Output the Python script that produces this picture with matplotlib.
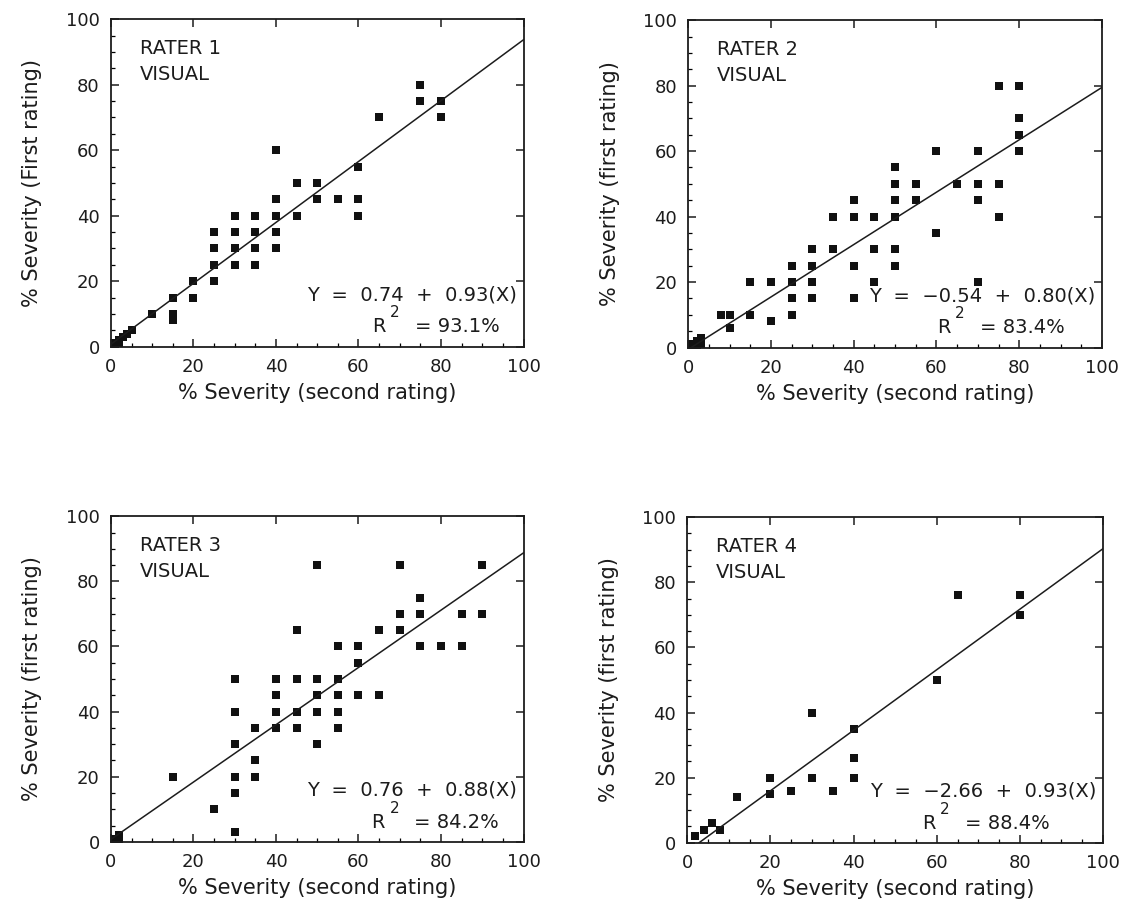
import numpy as np
import matplotlib
matplotlib.use("Agg")
import matplotlib.pyplot as plt
from matplotlib.ticker import MultipleLocator

plt.rcParams["font.family"] = ["DejaVu Sans"]

# second rating (x) vs first rating (y), % severity, per rater
rater1_x = [75, 75, 80, 80, 65, 40, 60, 45, 50, 40, 50, 55, 60, 30, 35, 40, 45, 60,
            25, 30, 35, 40, 25, 30, 35, 40, 25, 30, 35, 25, 20, 20, 15, 15, 15, 10,
            5, 4, 3, 2, 1, 0, 1, 2]
rater1_y = [80, 75, 75, 70, 70, 60, 55, 50, 50, 45, 45, 45, 45, 40, 40, 40, 40, 40,
            35, 35, 35, 35, 30, 30, 30, 30, 25, 25, 25, 20, 20, 15, 15, 10, 8, 10,
            5, 4, 3, 2, 1, 0, 0, 1]

rater2_x = [75, 80, 80, 80, 80, 60, 70, 50, 50, 55, 65, 70, 75, 40, 50, 55, 70,
            35, 40, 45, 50, 75, 60, 30, 35, 45, 50, 25, 30, 40, 50,
            15, 20, 25, 30, 45, 70, 25, 30, 40, 8, 10, 15, 25, 20, 10,
            3, 2, 1, 2, 1, 3, 0]
rater2_y = [80, 80, 70, 65, 60, 60, 60, 55, 50, 50, 50, 50, 50, 45, 45, 45, 45,
            40, 40, 40, 40, 40, 35, 30, 30, 30, 30, 25, 25, 25, 25,
            20, 20, 20, 20, 20, 20, 15, 15, 15, 10, 10, 10, 10, 8, 6,
            3, 2, 1, 0, 0, 1, 0]

rater3_x = [50, 70, 90, 75, 70, 75, 85, 90, 45, 65, 70, 55, 60, 75, 80, 85, 60,
            30, 40, 45, 50, 55, 40, 50, 55, 60, 65, 30, 40, 45, 50, 55,
            35, 40, 45, 55, 30, 50, 35, 15, 30, 35, 30, 25, 30,
            2, 1, 0, 1, 2]
rater3_y = [85, 85, 85, 75, 70, 70, 70, 70, 65, 65, 65, 60, 60, 60, 60, 60, 55,
            50, 50, 50, 50, 50, 45, 45, 45, 45, 45, 40, 40, 40, 40, 40,
            35, 35, 35, 35, 30, 30, 25, 20, 20, 20, 15, 10, 3,
            2, 1, 0, 0, 1]

rater4_x = [65, 80, 80, 60, 30, 40, 40, 40, 20, 30, 20, 25, 35, 12, 2, 4, 6, 8]
rater4_y = [76, 76, 70, 50, 40, 35, 26, 20, 20, 20, 15, 16, 16, 14, 2, 4, 6, 4]

# fitted regression: intercept, slope, R^2 (%)
intercepts = [0.74, -0.54, 0.76, -2.66]
slopes = [0.93, 0.80, 0.88, 0.93]
r_squared = [93.1, 83.4, 84.2, 88.4]

rater_names = ["RATER 1", "RATER 2", "RATER 3", "RATER 4"]
y_labels = ["% Severity (First rating)", "% Severity (first rating)",
            "% Severity (first rating)", "% Severity (first rating)"]
x_label = "% Severity (second rating)"

# axes boxes [left, bottom, width, height] and x of the "=" in the R^2 line
boxes = [[0.099, 0.622, 0.368, 0.357],
         [0.614, 0.621, 0.369, 0.357],
         [0.099, 0.082, 0.368, 0.355],
         [0.613, 0.081, 0.371, 0.355]]
eq_x = [0.736, 0.705, 0.735, 0.668]

xs = [rater1_x, rater2_x, rater3_x, rater4_x]
ys = [rater1_y, rater2_y, rater3_y, rater4_y]

ink = "#1c1c1c"
fig = plt.figure(figsize=(11.21, 9.17), dpi=100)

for i in range(4):
    ax = fig.add_axes(boxes[i])
    a, b = intercepts[i], slopes[i]

    ax.plot(xs[i], ys[i], "s", color="#111111", markersize=6, markeredgewidth=0)

    x0 = max(0.0, -a / b)
    line_x = np.array([x0, 100.0])
    ax.plot(line_x, a + b * line_x, color=ink, linewidth=1.1)

    ax.set_xlim(0, 100)
    ax.set_ylim(0, 100)
    ax.xaxis.set_major_locator(MultipleLocator(20))
    ax.yaxis.set_major_locator(MultipleLocator(20))
    ax.xaxis.set_minor_locator(MultipleLocator(5))
    ax.yaxis.set_minor_locator(MultipleLocator(5))
    ax.tick_params(which="major", direction="in", length=6, width=1.1,
                   top=True, right=True, labelsize=13, colors=ink, pad=8)
    ax.tick_params(which="minor", direction="in", length=3, width=0.9,
                   top=False, right=False)
    for s in ax.spines.values():
        s.set_linewidth(1.3)
        s.set_color(ink)

    ax.set_xlabel(x_label, fontsize=15, color=ink, labelpad=5)
    ax.set_ylabel(y_labels[i], fontsize=15, color=ink, labelpad=17)

    ax.text(0.07, 0.91, rater_names[i], transform=ax.transAxes, fontsize=14,
            va="center", ha="left", color=ink)
    ax.text(0.07, 0.83, "VISUAL", transform=ax.transAxes, fontsize=14,
            va="center", ha="left", color=ink)

    eq = "Y  =  {:.2f}  +  {:.2f}(X)".format(a, b).replace("-", "\u2212")
    ax.text(0.985, 0.158, eq, transform=ax.transAxes, fontsize=14,
            va="center", ha="right", color=ink)
    ex = eq_x[i]
    ax.text(ex - 0.104, 0.06, "R", transform=ax.transAxes, fontsize=14,
            va="center", ha="left", color=ink)
    ax.text(ex - 0.06, 0.103, "2", transform=ax.transAxes, fontsize=11,
            va="center", ha="left", color=ink)
    ax.text(ex, 0.06, "= {:.1f}%".format(r_squared[i]), transform=ax.transAxes,
            fontsize=14, va="center", ha="left", color=ink)

fig.savefig("out.png", dpi=100, facecolor="white")
